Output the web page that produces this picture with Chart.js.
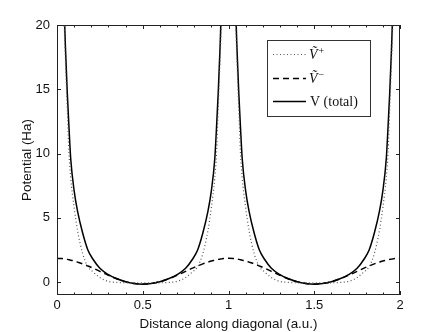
<!DOCTYPE html>
<html>
<head>
<meta charset="utf-8">
<script src="https://cdn.jsdelivr.net/npm/chart.js@4.4.1/dist/chart.umd.min.js"></script>
<style>
  html, body { margin: 0; padding: 0; background: #fff; }
  #wrap { width: 441px; height: 332px; position: relative; }
</style>
</head>
<body>
<div id="wrap"><canvas id="c"></canvas></div>
<script>
// ── Data ──────────────────────────────────────────────────────────────────────
const xs = [
  0.00, 0.03, 0.04, 0.05, 0.06, 0.07, 0.08, 0.10, 0.12, 0.15, 0.18, 0.21, 0.25, 0.30, 0.35, 0.40, 0.45, 0.50,
  0.55, 0.60, 0.65, 0.70, 0.75, 0.79, 0.82, 0.85, 0.88, 0.90, 0.92, 0.93, 0.94, 0.95, 0.96, 0.97, 1.00,
  1.03, 1.04, 1.05, 1.06, 1.07, 1.08, 1.10, 1.12, 1.15, 1.18, 1.21, 1.25, 1.30, 1.35, 1.40, 1.45, 1.50,
  1.55, 1.60, 1.65, 1.70, 1.75, 1.79, 1.82, 1.85, 1.88, 1.90, 1.92, 1.93, 1.94, 1.95, 1.96, 1.97, 2.00
];
const vPlus = [
  null, 27, 21, 17, 13.5, 10.0, 8.1, 5.8, 4.0, 2.2, 1.2, 0.8, 0.36, 0.06, -0.02, -0.05, -0.06, -0.06,
  -0.06, -0.05, -0.02, 0.06, 0.36, 0.8, 1.2, 2.2, 4.0, 5.8, 8.1, 10.0, 13.5, 17, 21, 27, null,
  27, 21, 17, 13.5, 10.0, 8.1, 5.8, 4.0, 2.2, 1.2, 0.8, 0.36, 0.06, -0.02, -0.05, -0.06, -0.06,
  -0.06, -0.05, -0.02, 0.06, 0.36, 0.8, 1.2, 2.2, 4.0, 5.8, 8.1, 10.0, 13.5, 17, 21, 27, null
];
const vMinus = [
  1.85, 1.83, 1.81, 1.79, 1.77, 1.74, 1.71, 1.65, 1.56, 1.42, 1.26, 1.09, 0.84, 0.53, 0.25, 0.04, -0.10, -0.15,
  -0.10, 0.04, 0.25, 0.53, 0.84, 1.09, 1.26, 1.42, 1.56, 1.65, 1.71, 1.74, 1.77, 1.79, 1.81, 1.83, 1.85,
  1.83, 1.81, 1.79, 1.77, 1.74, 1.71, 1.65, 1.56, 1.42, 1.26, 1.09, 0.84, 0.53, 0.25, 0.04, -0.10, -0.15,
  -0.10, 0.04, 0.25, 0.53, 0.84, 1.09, 1.26, 1.42, 1.56, 1.65, 1.71, 1.74, 1.77, 1.79, 1.81, 1.83, 1.85
];
const vTotal = [
  null, 28, 22, 18, 14.7, 12, 9.6, 7.1, 5.5, 3.8, 2.5, 1.78, 1.08, 0.58, 0.26, 0.03, -0.11, -0.17,
  -0.11, 0.03, 0.26, 0.58, 1.08, 1.78, 2.5, 3.8, 5.5, 7.1, 9.6, 12, 14.7, 18, 22, 28, null,
  28, 22, 18, 14.7, 12, 9.6, 7.1, 5.5, 3.8, 2.5, 1.78, 1.08, 0.58, 0.26, 0.03, -0.11, -0.17,
  -0.11, 0.03, 0.26, 0.58, 1.08, 1.78, 2.5, 3.8, 5.5, 7.1, 9.6, 12, 14.7, 18, 22, 28, null
];
const xTicks = [0, 0.5, 1, 1.5, 2];
const xTickLabels = ['0', '0.5', '1', '1.5', '2'];
const xMinorTicks = [0.1, 0.2, 0.3, 0.4, 0.6, 0.7, 0.8, 0.9, 1.1, 1.2, 1.3, 1.4, 1.6, 1.7, 1.8, 1.9];
const yTicks = [0, 5, 10, 15, 20];
const yTickLabels = ['0', '5', '10', '15', '20'];

const toPoints = ys => xs.map((x, i) => ({ x, y: ys[i] }));

// ── Frame, inward ticks and boxed legend ─────────────────────────────────────
const framePlugin = {
  id: 'frame',
  afterDraw(chart) {
    const { ctx, chartArea: a, scales: { x, y } } = chart;
    ctx.save();
    ctx.strokeStyle = '#222';
    ctx.lineWidth = 1;
    ctx.strokeRect(a.left + 0.5, a.top + 0.5, a.right - a.left - 1, a.bottom - a.top - 1);

    ctx.beginPath();
    const tickX = (v, len) => {
      const px = Math.round(x.getPixelForValue(v)) + 0.5;
      ctx.moveTo(px, a.bottom); ctx.lineTo(px, a.bottom - len);
      ctx.moveTo(px, a.top);    ctx.lineTo(px, a.top + len);
    };
    xTicks.forEach(v => tickX(v, 4));
    xMinorTicks.forEach(v => tickX(v, 2.5));
    yTicks.forEach(v => {
      const py = Math.round(y.getPixelForValue(v)) + 0.5;
      ctx.moveTo(a.left, py);  ctx.lineTo(a.left + 4, py);
      ctx.moveTo(a.right, py); ctx.lineTo(a.right - 4, py);
    });
    ctx.stroke();

    // legend box
    const L = { left: 267, top: 40, right: 370, bottom: 116 };
    ctx.fillStyle = '#fff';
    ctx.fillRect(L.left, L.top, L.right - L.left, L.bottom - L.top);
    ctx.strokeStyle = '#333';
    ctx.strokeRect(L.left + 0.5, L.top + 0.5, L.right - L.left, L.bottom - L.top);

    const rows = [54, 78, 101];
    chart.data.datasets.forEach((ds, i) => {
      const ry = rows[i] + 0.5;
      ctx.setLineDash(ds.borderDash || []);
      ctx.strokeStyle = ds.borderColor;
      ctx.lineWidth = ds.borderWidth;
      ctx.beginPath();
      ctx.moveTo(273, ry); ctx.lineTo(306, ry);
      ctx.stroke();
      ctx.setLineDash([]);

      ctx.fillStyle = '#111';
      ctx.textBaseline = 'middle';
      ctx.textAlign = 'left';
      if (ds.sup) {
        ctx.font = 'italic 14px "Liberation Serif"';
        ctx.fillText('V\u0303', 309, ry + 1);
        const w = ctx.measureText('V').width;
        ctx.font = '10px "Liberation Serif"';
        ctx.fillText(ds.sup, 309 + w + 1, ry - 3);
      } else {
        ctx.font = '14px "Liberation Serif"';
        ctx.fillText(ds.label, 310, ry + 1);
      }
    });
    ctx.restore();
  }
};

// ── Chart ─────────────────────────────────────────────────────────────────────
const tickFont  = { family: '"Liberation Sans", Arial, sans-serif', size: 13 };
const titleFont = { family: '"Liberation Sans", Arial, sans-serif', size: 13.4 };

new Chart(document.getElementById('c'), {
  type: 'line',
  data: {
    datasets: [
      { label: 'V+', sup: '+', data: toPoints(vPlus),  borderColor: '#555', borderWidth: 1.2, borderDash: [1, 2.5] },
      { label: 'V-', sup: '\u2212', data: toPoints(vMinus), borderColor: '#000', borderWidth: 1.5, borderDash: [6, 4] },
      { label: 'V (total)', data: toPoints(vTotal), borderColor: '#000', borderWidth: 1.5 }
    ]
  },
  options: {
    responsive: true,
    maintainAspectRatio: false,
    animation: false,
    spanGaps: false,
    elements: { point: { radius: 0 }, line: { cubicInterpolationMode: 'monotone' } },
    layout: { padding: { left: 0, right: 41, top: 25, bottom: 0 } },
    scales: {
      x: {
        type: 'linear', min: 0, max: 2,
        grid: { display: false, drawTicks: false },
        border: { display: false },
        afterBuildTicks: s => { s.ticks = xTicks.map(v => ({ value: v })); },
        afterFit: s => { s.height = 37; },
        ticks: { color: '#111', font: tickFont, padding: 3, maxRotation: 0,
                 callback: (v, i) => xTickLabels[i] },
        title: { display: true, text: 'Distance along diagonal (a.u.)', color: '#111', font: titleFont, padding: { top: 0, bottom: 0 } }
      },
      y: {
        min: -1, max: 20,
        grid: { display: false, drawTicks: false },
        border: { display: false },
        afterBuildTicks: s => { s.ticks = yTicks.map(v => ({ value: v })); },
        afterFit: s => { s.width = 57; },
        ticks: { color: '#111', font: tickFont, padding: 7,
                 callback: (v, i) => yTickLabels[i] },
        title: { display: true, text: 'Potential (Ha)', color: '#111', font: titleFont, padding: { top: 19, bottom: 0 } }
      }
    },
    plugins: {
      legend: { display: false },
      tooltip: { enabled: false }
    }
  },
  plugins: [framePlugin]
});
</script>
</body>
</html>
